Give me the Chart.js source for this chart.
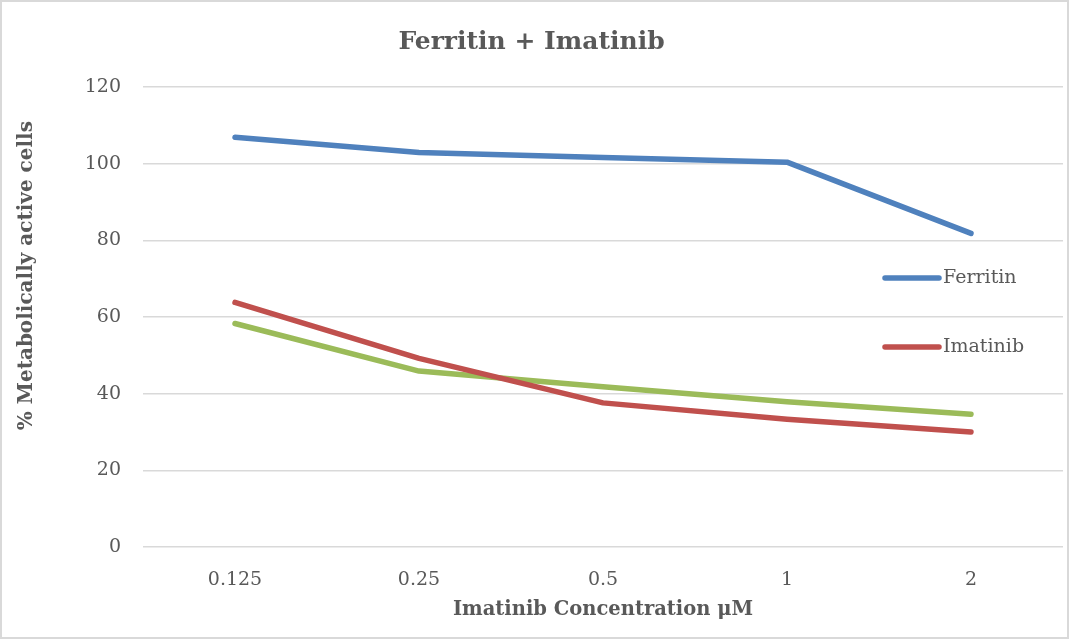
<!DOCTYPE html>
<html>
<head>
<meta charset="utf-8">
<script src="https://cdn.jsdelivr.net/npm/chart.js@4"></script>
<style>
  html, body { margin: 0; padding: 0; background: #fff; }
  #wrap { width: 1069px; height: 639px; position: relative; }
</style>
</head>
<body>
<div id="wrap"><canvas id="lineChart" width="1069" height="639"></canvas></div>
<script>
// Chart data
const concentrations = ['0.125', '0.25', '0.5', '1', '2'];
const ferritinValues = [106.9, 102.9, 101.6, 100.4, 81.8];
const imatinibValues = [63.8, 49.2, 37.6, 33.3, 30.0];
const combinedValues = [58.3, 45.9, 41.8, 37.9, 34.6];
const seriesLabels = ['Ferritin', 'Imatinib', ''];
const seriesColors = ['#4f81bd', '#c0504d', '#9bbb59'];

const textColor = '#595959';
const fontFamily = "'DejaVu Serif', serif";
const yTitleText = '% Metabolically active cells';

// Border around the whole picture
const borderPlugin = {
    id: 'border',
    afterDraw(chart) {
        const ctx = chart.ctx;
        ctx.save();
        ctx.strokeStyle = '#d9d9d9';
        ctx.lineWidth = 2;
        ctx.strokeRect(1, 1, chart.width - 2, chart.height - 2);
        ctx.restore();
    }
};

// Y axis title, sits a bit above the middle of the plot like the original
const yTitlePlugin = {
    id: 'yTitle',
    afterDraw(chart) {
        const ctx = chart.ctx;
        const area = chart.chartArea;
        const cy = area.top + (area.bottom - area.top) * 0.41;
        ctx.save();
        ctx.translate(27, cy);
        ctx.rotate(-Math.PI / 2);
        ctx.font = `bold 20px ${fontFamily}`;
        ctx.fillStyle = textColor;
        ctx.textAlign = 'center';
        ctx.textBaseline = 'middle';
        ctx.fillText(yTitleText, 0, 0);
        ctx.restore();
    }
};

// Legend drawn inside the plot, to the right, skipping unnamed series
const insideLegend = {
    id: 'insideLegend',
    afterDraw(chart) {
        const ctx = chart.ctx;
        const area = chart.chartArea;
        const x0 = area.right - 178;
        let y = area.top + 191;
        ctx.save();
        ctx.font = `19px ${fontFamily}`;
        ctx.textBaseline = 'middle';
        ctx.lineCap = 'round';
        chart.data.datasets.forEach(ds => {
            if (!ds.label) return;
            ctx.strokeStyle = ds.borderColor;
            ctx.lineWidth = 5.5;
            ctx.beginPath();
            ctx.moveTo(x0, y);
            ctx.lineTo(x0 + 54, y);
            ctx.stroke();
            ctx.fillStyle = textColor;
            ctx.fillText(ds.label, x0 + 58, y);
            y += 69;
        });
        ctx.restore();
    }
};

function makeDataset(label, values, color) {
    return {
        label: label,
        data: values,
        borderColor: color,
        backgroundColor: color,
        borderWidth: 5.5,
        pointRadius: 0,
        borderCapStyle: 'round',
        borderJoinStyle: 'round',
        tension: 0
    };
}

const ctx = document.getElementById('lineChart').getContext('2d');
new Chart(ctx, {
    type: 'line',
    data: {
        labels: concentrations,
        datasets: [
            makeDataset(seriesLabels[0], ferritinValues, seriesColors[0]),
            makeDataset(seriesLabels[1], imatinibValues, seriesColors[1]),
            makeDataset(seriesLabels[2], combinedValues, seriesColors[2])
        ]
    },
    options: {
        responsive: false,
        animation: false,
        layout: { padding: { left: 0, right: 6, top: 0, bottom: 0 } },
        plugins: {
            legend: { display: false },
            tooltip: { enabled: false },
            title: {
                display: true,
                text: 'Ferritin + Imatinib',
                color: textColor,
                font: { family: fontFamily, size: 25, weight: 'bold' },
                padding: { top: 27, bottom: 30 }
            }
        },
        scales: {
            x: {
                offset: true,
                grid: { display: false, drawTicks: false, offset: true },
                border: { display: false },
                ticks: { color: textColor, font: { family: fontFamily, size: 19 }, padding: 22 },
                title: {
                    display: true,
                    text: 'Imatinib Concentration μM',
                    color: textColor,
                    font: { family: fontFamily, size: 19.5, weight: 'bold' },
                    padding: { top: 0, bottom: 17 }
                },
                afterFit(scale) { scale.height = 92; }
            },
            y: {
                min: 0,
                max: 120,
                ticks: { stepSize: 20, color: textColor, font: { family: fontFamily, size: 19 }, padding: 22 },
                grid: { color: '#d9d9d9', lineWidth: 1.5, drawTicks: false },
                border: { display: false },
                title: { display: false },
                afterFit(scale) { scale.width = 143; }
            }
        }
    },
    plugins: [borderPlugin, yTitlePlugin, insideLegend]
});
</script>
</body>
</html>
